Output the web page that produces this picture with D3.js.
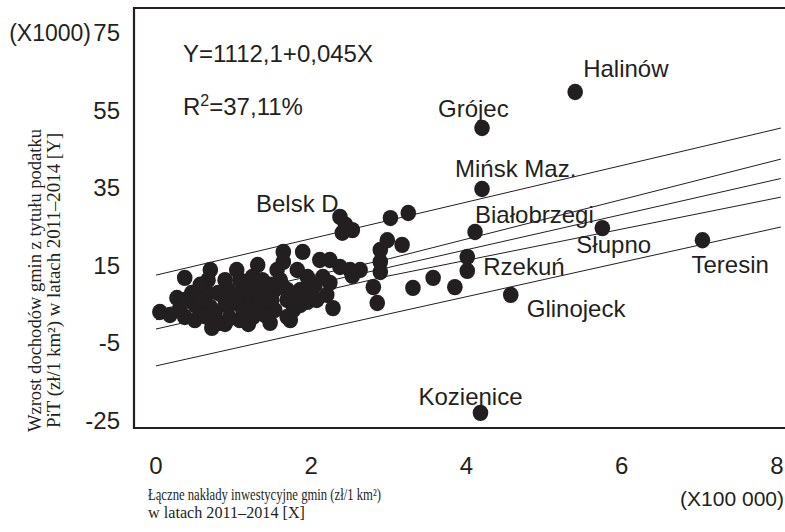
<!DOCTYPE html>
<html><head><meta charset="utf-8">
<script src="https://cdn.jsdelivr.net/npm/d3@7"></script>
<style>body{margin:0;background:#fff}svg{display:block}</style>
</head><body><svg id="c" width="785" height="532"></svg>
<script>
// ---- data ----
const xTicks = [0, 2, 4, 6, 8];
const yTicks = [75, 55, 35, 15, -5, -25];
const xUnitLabel = "(X100 000)";
const yUnitLabel = "(X1000)";
const equationText = "Y=1112,1+0,045X";
const r2Value = "=37,11%";

const pointsX = [0.05,0.18,0.27,0.37,0.46,0.37,0.50,0.70,0.67,0.66,0.70,0.76,0.72,0.82,0.80,0.93,1.04,1.08,0.99,1.12,1.17,1.31,1.24,1.30,1.38,1.25,1.47,1.43,1.56,1.64,1.64,1.60,1.69,1.69,1.73,1.89,1.82,1.95,1.86,1.95,2.11,2.24,2.15,2.24,2.20,2.28,2.37,2.50,2.63,2.53,2.40,3.02,3.25,2.89,2.98,3.17,2.89,2.89,2.80,2.85,3.31,3.57,3.85,4.01,0.59,1.31,1.77,1.69,1.62,2.53,2.07,0.89,1.08,1.53,1.15,0.50,1.47,0.95,1.37,0.57,0.89,1.86,2.05,2.44,
  0.31,0.63,0.85,1.04,1.21,1.34,1.53,1.19,0.89,1.79,1.98,0.57,0.37,1.49,1.40];
const pointsY = [3.1,2.3,6.7,11.9,8.0,1.8,1.0,13.9,11.3,8.0,4.4,2.8,-1.0,0.3,8.0,8.8,13.9,11.3,5.4,3.6,6.2,15.2,12.1,8.8,7.0,1.8,0.3,4.4,13.9,18.6,16.0,11.3,8.8,6.2,1.0,18.6,13.9,12.1,8.8,5.7,16.5,16.5,12.1,10.6,7.5,4.1,14.7,13.9,13.9,24.2,23.5,27.3,28.6,19.1,21.6,20.4,16.0,13.4,9.5,5.4,9.3,11.9,9.5,17.3,3.1,2.8,3.6,1.8,10.1,12.4,6.2,4.9,1.0,8.8,8.8,4.9,10.1,1.5,11.3,10.1,11.3,4.9,10.1,25.6,
  4.1,2.0,7.5,7.5,5.0,6.2,3.6,0.0,0.0,6.8,8.8,6.2,6.2,6.2,2.3];

const namedNames = ["Halinów","Grójec","Mińsk Maz.","Belsk D","Białobrzegi","Słupno","Teresin","Rzekuń","Glinojeck","Kozienice"];
const namedX = [5.40,4.20,4.20,2.37,4.11,5.75,7.04,4.01,4.57,4.18];
const namedY = [59.8,50.5,34.8,27.6,23.7,24.7,21.6,13.7,7.5,-22.9];

// regression lines (fit, confidence and prediction bands) read at x positions
const lineX = [0, 3, 8.05];
const fitLine = [1.1, 14.6, 37.5];
const confUpper = [3.5, 16.8, 42.5];
const confLower = [-1.3, 12.4, 32.7];
const predUpper = [12.6, 26.7, 50.5];
const predLower = [-10.8, 2.6, 25.0];

// ---- layout ----
const ink = "#231f20";
const svg = d3.select("#c");
const x = d3.scaleLinear().domain([0, 8]).range([156, 777]);
const y = d3.scaleLinear().domain([-25, 75]).range([421, 33]);
const sans = "'Liberation Sans', Arial, sans-serif";
const serif = "'Liberation Serif', 'Times New Roman', serif";

const labelDX = [8,-44,-27,-84,0,-26,-11,16,16,-62];
const labelDY = [-15,-11,-12,-5,-9,25,33,4,22,-8];

// lines
const lg = d3.line().x((d,i)=>x(lineX[i])).y(d=>y(d));
[predUpper, confUpper, fitLine, confLower, predLower].forEach(arr=>{
  svg.append("path").attr("d", lg(arr)).attr("fill","none")
    .attr("stroke", ink).attr("stroke-width", 1);
});

// dots
const pts = pointsX.map((v,i)=>[v, pointsY[i]]).concat(namedX.map((v,i)=>[v, namedY[i]]));
svg.append("g").selectAll("ellipse").data(pts).join("ellipse")
  .attr("cx", d=>x(d[0])).attr("cy", d=>y(d[1])).attr("rx", 7.8).attr("ry", 8.2).attr("fill", ink);

// frame
svg.append("path").attr("d","M786,8H134V428H786").attr("fill","none")
  .attr("stroke", ink).attr("stroke-width", 2.2);

// y ticks
svg.append("g").selectAll("text").data(yTicks).join("text")
  .attr("x", 120).attr("y", d=>y(d)+8).attr("text-anchor","end")
  .attr("font-family", sans).attr("font-size", 24).attr("fill", ink).text(d=>d);
svg.append("text").attr("x", 91).attr("y", y(75)+8).attr("text-anchor","end")
  .attr("font-family", sans).attr("font-size", 23).attr("fill", ink).text(yUnitLabel);

// x ticks
svg.append("g").selectAll("text").data(xTicks).join("text")
  .attr("x", d=>x(d)).attr("y", 474).attr("text-anchor","middle")
  .attr("font-family", sans).attr("font-size", 24).attr("fill", ink).text(d=>d);
svg.append("text").attr("x", 784).attr("y", 506).attr("text-anchor","end")
  .attr("font-family", sans).attr("font-size", 21).attr("fill", ink).text(xUnitLabel);

// equation
svg.append("text").attr("x", 183).attr("y", 62).attr("font-family", sans)
  .attr("font-size", 24).attr("fill", ink).text(equationText);
const r2 = svg.append("text").attr("x", 183).attr("y", 115).attr("font-family", sans)
  .attr("font-size", 24).attr("fill", ink);
r2.append("tspan").text("R");
r2.append("tspan").attr("font-size", 16).attr("dy", -9).text("2");
r2.append("tspan").attr("dy", 9).text(r2Value);

// point labels
svg.append("g").selectAll("text").data(namedNames).join("text")
  .attr("x", (d,i)=>x(namedX[i])+labelDX[i]).attr("y", (d,i)=>y(namedY[i])+labelDY[i])
  .attr("font-family", sans).attr("font-size", 24).attr("fill", ink).text(d=>d);

// axis titles
const xt = svg.append("g").attr("font-family", serif).attr("font-size", 16).attr("fill", ink);
xt.append("text").attr("x",148).attr("y",500).attr("textLength",233).attr("lengthAdjust","spacingAndGlyphs")
  .text("Łączne nakłady inwestycyjne gmin (zł/1 km²)");
xt.append("text").attr("x",148).attr("y",518).attr("textLength",157).attr("lengthAdjust","spacingAndGlyphs")
  .text("w latach 2011–2014 [X]");

const yt = svg.append("g").attr("font-family", serif).attr("font-size", 18).attr("fill", ink);
yt.append("text").attr("transform","translate(41,432) rotate(-90)").attr("textLength",303).attr("lengthAdjust","spacingAndGlyphs")
  .text("Wzrost dochodów gmin z tytułu podatku");
yt.append("text").attr("transform","translate(60,428) rotate(-90)").attr("textLength",295).attr("lengthAdjust","spacingAndGlyphs")
  .text("PiT (zł/1 km²) w latach 2011–2014 [Y]");
</script></body></html>
